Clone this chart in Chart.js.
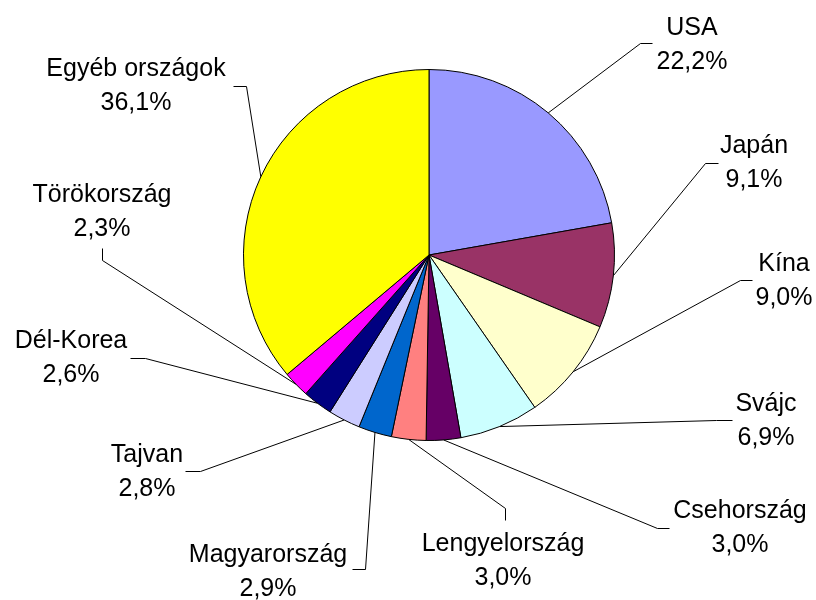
<!DOCTYPE html>
<html>
<head>
<meta charset="utf-8">
<script src="https://cdn.jsdelivr.net/npm/chart.js@4/dist/chart.umd.min.js"></script>
<style>
  html, body { margin: 0; padding: 0; background: #fff; }
  canvas { display: block; }
</style>
</head>
<body>
<canvas id="pieChart" width="816" height="600"></canvas>
<script>
// data (percent)
const countries = ['USA', 'Japán', 'Kína', 'Svájc', 'Csehország', 'Lengyelország',
  'Magyarország', 'Tajvan', 'Dél-Korea', 'Törökország', 'Egyéb országok'];
const shares = [22.2, 9.1, 9.0, 6.9, 3.0, 3.0, 2.9, 2.8, 2.6, 2.3, 36.1];

// Excel-style palette
const sliceColors = ['#9999FF', '#993366', '#FFFFCC', '#CCFFFF', '#660066', '#FF8080',
  '#0066CC', '#CCCCFF', '#000080', '#FF00FF', '#FFFF00'];

// label placement: text centre x, first baseline y, leader elbow and leader end
const labelX = [692, 754, 784, 766, 740, 503, 268, 147, 71, 102, 136];
const labelY = [35, 153, 271, 411, 518, 551, 562, 462, 348, 202, 76];
const elbows = [[640, 43], [705, 163], [740, 280], [716, 420], [657, 528], [505, 508],
  [365, 569], [200, 471], [145, 358], [102, 260], [246, 86]];
const ends = [[652, 43], [718, 163], [752, 280], [732, 420], [669, 528], [505, 520],
  [352, 569], [185, 471], [130, 358], [102, 248], [233, 86]];

const fmt = v => v.toFixed(1).replace('.', ',') + '%';

const leaderLabels = {
  id: 'leaderLabels',
  afterDatasetsDraw(chart) {
    const ctx = chart.ctx;
    const arcs = chart.getDatasetMeta(0).data;
    ctx.save();
    ctx.strokeStyle = '#000';
    ctx.lineWidth = 1;
    arcs.forEach((arc, i) => {
      const p = arc.getProps(['x', 'y', 'startAngle', 'endAngle', 'outerRadius'], true);
      const mid = (p.startAngle + p.endAngle) / 2;
      const px = p.x + p.outerRadius * Math.cos(mid);
      const py = p.y + p.outerRadius * Math.sin(mid);
      ctx.beginPath();
      ctx.moveTo(px, py);
      ctx.lineTo(elbows[i][0] + 0.5, elbows[i][1] + 0.5);
      ctx.lineTo(ends[i][0] + 0.5, ends[i][1] + 0.5);
      ctx.stroke();
    });
    ctx.fillStyle = '#000';
    ctx.font = '25px "Liberation Sans", Arial, sans-serif';
    ctx.textAlign = 'center';
    ctx.textBaseline = 'alphabetic';
    countries.forEach((name, i) => {
      ctx.fillText(name, labelX[i], labelY[i]);
      ctx.fillText(fmt(shares[i]), labelX[i], labelY[i] + 34);
    });
    ctx.restore();
  }
};

new Chart(document.getElementById('pieChart').getContext('2d'), {
  type: 'pie',
  data: {
    labels: countries,
    datasets: [{
      data: shares,
      backgroundColor: sliceColors,
      borderColor: '#000',
      borderWidth: 1
    }]
  },
  options: {
    responsive: false,
    animation: false,
    layout: {
      padding: { left: 243, right: 201, top: 69, bottom: 159 }
    },
    plugins: {
      legend: { display: false },
      tooltip: { enabled: false }
    }
  },
  plugins: [leaderLabels]
});
</script>
</body>
</html>
